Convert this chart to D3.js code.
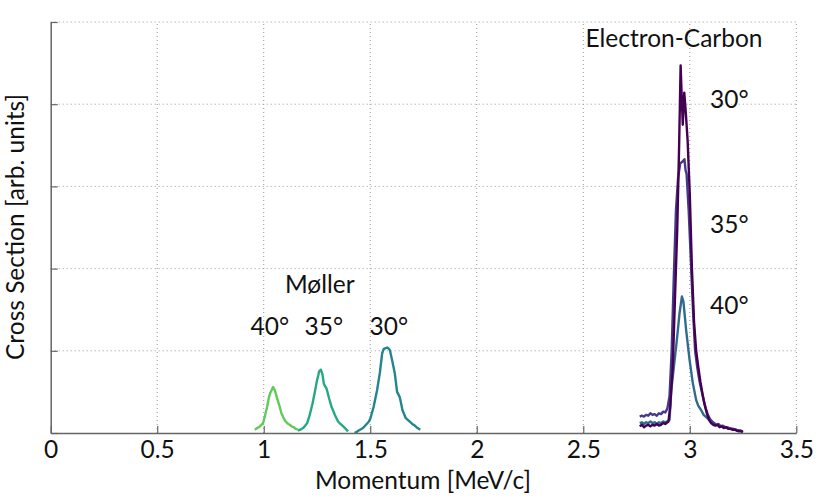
<!DOCTYPE html>
<html>
<head>
<meta charset="utf-8">
<script src="https://cdn.jsdelivr.net/npm/d3@7"></script>
<style>
  html, body { margin: 0; padding: 0; background: #fff; }
  svg text { font-family: Lato, "Open Sans", sans-serif; fill: #111; }
</style>
</head>
<body>
<svg id="chart" width="830" height="498"></svg>
<script>
// ---------- data ----------
const xTicks = [0, 0.5, 1, 1.5, 2, 2.5, 3, 3.5];
const xTickLabels = ["0", "0.5", "1", "1.5", "2", "2.5", "3", "3.5"];
const yTicks = [0, 1, 2, 3, 4, 5];

const moller40 = [
  [0.958,0.04],[0.970,0.06],[0.982,0.08],[0.997,0.12],[1.005,0.20],[1.016,0.32],
  [1.025,0.44],[1.031,0.49],[1.037,0.52],[1.044,0.56],[1.048,0.54],[1.052,0.52],
  [1.058,0.47],[1.063,0.42],[1.075,0.32],[1.083,0.24],[1.094,0.18],[1.100,0.15],
  [1.107,0.13],[1.115,0.11],[1.122,0.10],[1.131,0.08],[1.141,0.07],[1.150,0.05],[1.161,0.04]
];
const moller35 = [
  [1.161,0.03],[1.172,0.04],[1.185,0.06],[1.195,0.09],[1.204,0.12],[1.216,0.22],
  [1.229,0.36],[1.240,0.50],[1.250,0.64],[1.256,0.70],[1.260,0.75],[1.264,0.76],
  [1.268,0.77],[1.272,0.74],[1.276,0.71],[1.282,0.60],[1.288,0.57],[1.295,0.54],
  [1.307,0.42],[1.318,0.32],[1.326,0.27],[1.334,0.22],[1.349,0.14],[1.360,0.11],
  [1.373,0.08],[1.385,0.05],[1.396,0.02]
];
const moller30 = [
  [1.427,0.00],[1.440,0.02],[1.452,0.04],[1.466,0.06],[1.480,0.10],[1.494,0.14],
  [1.501,0.18],[1.516,0.32],[1.532,0.52],[1.545,0.73],[1.556,0.97],[1.563,1.02],
  [1.570,1.03],[1.579,1.04],[1.585,1.03],[1.592,1.01],[1.598,0.94],[1.604,0.87],
  [1.615,0.73],[1.626,0.50],[1.638,0.44],[1.645,0.36],[1.651,0.28],[1.667,0.18],
  [1.676,0.16],[1.685,0.14],[1.697,0.11],[1.709,0.09],[1.722,0.06],[1.735,0.04]
];
const carbon30 = [
  [2.765,0.08],[2.775,0.10],[2.785,0.07],[2.795,0.09],[2.805,0.10],[2.815,0.08],
  [2.825,0.10],[2.835,0.09],[2.845,0.11],[2.855,0.09],[2.865,0.10],[2.875,0.12],
  [2.885,0.11],[2.895,0.13],[2.900,0.14],[2.908,0.32],[2.920,0.80],[2.930,1.60],
  [2.941,2.47],[2.950,3.50],[2.957,4.47],[2.962,4.10],[2.967,3.75],[2.974,4.14],
  [2.980,3.95],[2.990,3.55],[3.000,2.90],[3.010,2.00],[3.020,1.35],[3.030,1.00],
  [3.040,0.80],[3.050,0.62],[3.060,0.47],[3.070,0.34],[3.080,0.24],[3.090,0.16],
  [3.100,0.12],[3.110,0.10],[3.120,0.09],[3.130,0.10],[3.140,0.07],[3.150,0.08],
  [3.160,0.06],[3.170,0.07],[3.180,0.05],[3.190,0.05],[3.200,0.04],[3.210,0.04],
  [3.220,0.03],[3.230,0.02],[3.240,0.02],[3.250,0.01]
];
const carbon35 = [
  [2.765,0.20],[2.775,0.21],[2.785,0.20],[2.795,0.22],[2.805,0.21],[2.815,0.24],
  [2.825,0.22],[2.835,0.23],[2.845,0.21],[2.855,0.24],[2.865,0.23],[2.875,0.26],
  [2.885,0.25],[2.895,0.30],[2.905,0.45],[2.915,1.00],[2.925,1.90],[2.935,2.70],
  [2.945,3.10],[2.955,3.28],[2.965,3.30],[2.975,3.33],[2.980,3.20],[2.985,3.15],
  [2.995,2.70],[3.005,2.10],[3.015,1.50],[3.025,1.00],[3.035,0.80],[3.045,0.64],
  [3.055,0.52],[3.065,0.40],[3.075,0.30],[3.085,0.22],[3.095,0.17],[3.105,0.14],
  [3.115,0.12],[3.125,0.10],[3.135,0.11],[3.145,0.08],[3.155,0.09],[3.165,0.07],
  [3.175,0.07],[3.185,0.06],[3.195,0.05],[3.205,0.05],[3.215,0.04],[3.225,0.03],
  [3.235,0.03],[3.250,0.02]
];
const carbon40 = [
  [2.765,0.12],[2.775,0.13],[2.785,0.11],[2.795,0.13],[2.805,0.12],[2.815,0.14],
  [2.825,0.12],[2.835,0.13],[2.845,0.11],[2.855,0.13],[2.865,0.12],[2.875,0.14],
  [2.885,0.13],[2.895,0.14],[2.905,0.16],[2.913,0.52],[2.925,0.80],[2.936,1.05],
  [2.945,1.28],[2.952,1.46],[2.963,1.66],[2.970,1.60],[2.983,1.25],[2.999,0.89],
  [3.014,0.61],[3.030,0.40],[3.040,0.33],[3.053,0.28],[3.065,0.22],[3.078,0.19],
  [3.092,0.16],[3.108,0.12],[3.124,0.10],[3.140,0.09],[3.155,0.08],[3.170,0.07],
  [3.186,0.06],[3.200,0.05],[3.215,0.04],[3.230,0.03],[3.249,0.02]
];

const series = [
  { name: "Møller 40°", data: moller40, color: "#62c95c" },
  { name: "Møller 35°", data: moller35, color: "#25a985" },
  { name: "Møller 30°", data: moller30, color: "#23868d" },
  { name: "Electron-Carbon 40°", data: carbon40, color: "#2f6b8e" },
  { name: "Electron-Carbon 35°", data: carbon35, color: "#463a8a" },
  { name: "Electron-Carbon 30°", data: carbon30, color: "#440154" }
];

const labels = [
  { text: "Møller", x: 1.263, y: 1.70 },
  { text: "40°", x: 1.029, y: 1.19 },
  { text: "35°", x: 1.282, y: 1.19 },
  { text: "30°", x: 1.587, y: 1.19 },
  { text: "Electron-Carbon", x: 2.926, y: 4.70 },
  { text: "30°", x: 3.186, y: 3.95 },
  { text: "35°", x: 3.186, y: 2.43 },
  { text: "40°", x: 3.186, y: 1.45 }
];

// ---------- chart ----------
const FS = 24.5;
const svg = d3.select("#chart");
const x = d3.scaleLinear().domain([0, 3.5]).range([50.7, 796.3]);
const y = d3.scaleLinear().domain([0, 5]).range([433, 22]);

// grid
const grid = svg.append("g");
grid.selectAll("line.gx").data(xTicks.filter(d => d > 0)).join("line")
  .attr("x1", d => x(d)).attr("x2", d => x(d))
  .attr("y1", y(0)).attr("y2", y(5))
  .attr("stroke", "#999").attr("stroke-width", 1).attr("stroke-dasharray", "1,3");
grid.selectAll("line.gy").data(yTicks.filter(d => d > 0)).join("line")
  .attr("x1", x(0)).attr("x2", x(3.5))
  .attr("y1", d => y(d)).attr("y2", d => y(d))
  .attr("stroke", "#999").attr("stroke-width", 1).attr("stroke-dasharray", "1,3");

// lines
const line = d3.line().x(d => x(d[0])).y(d => y(d[1]));
svg.append("g").selectAll("path").data(series).join("path")
  .attr("d", d => line(d.data))
  .attr("fill", "none")
  .attr("stroke", d => d.color)
  .attr("stroke-width", 2.4)
  .attr("stroke-linejoin", "round");

// axes
const xAxis = d3.axisBottom(x).tickValues(xTicks).tickFormat((d, i) => xTickLabels[i])
  .tickSizeInner(-7).tickSizeOuter(0).tickPadding(8);
const gx = svg.append("g").attr("transform", `translate(0,${y(0)})`).call(xAxis);
gx.select(".domain").attr("stroke", "#666").attr("stroke-width", 1.5);
gx.selectAll(".tick line").attr("stroke", "#666").attr("stroke-width", 1.2);
gx.selectAll(".tick text").attr("font-size", FS).attr("font-family", "Lato").attr("fill", "#111");

const yAxis = d3.axisLeft(y).tickValues(yTicks).tickFormat("")
  .tickSizeInner(-7).tickSizeOuter(0);
const gy = svg.append("g").attr("transform", `translate(${x(0)},0)`).call(yAxis);
gy.select(".domain").attr("stroke", "#666").attr("stroke-width", 1.5);
gy.selectAll(".tick line").attr("stroke", "#666").attr("stroke-width", 1.2);

// axis titles
svg.append("text").attr("x", 423).attr("y", 489).attr("text-anchor", "middle")
  .attr("font-size", FS).text("Momentum [MeV/c]");
svg.append("text").attr("transform", "translate(23.5,227) rotate(-90)")
  .attr("text-anchor", "middle").attr("font-size", FS).text("Cross Section [arb. units]");

// annotations
svg.append("g").selectAll("text").data(labels).join("text")
  .attr("x", d => x(d.x)).attr("y", d => y(d.y))
  .attr("text-anchor", "middle").attr("font-size", FS)
  .text(d => d.text);
</script>
</body>
</html>
